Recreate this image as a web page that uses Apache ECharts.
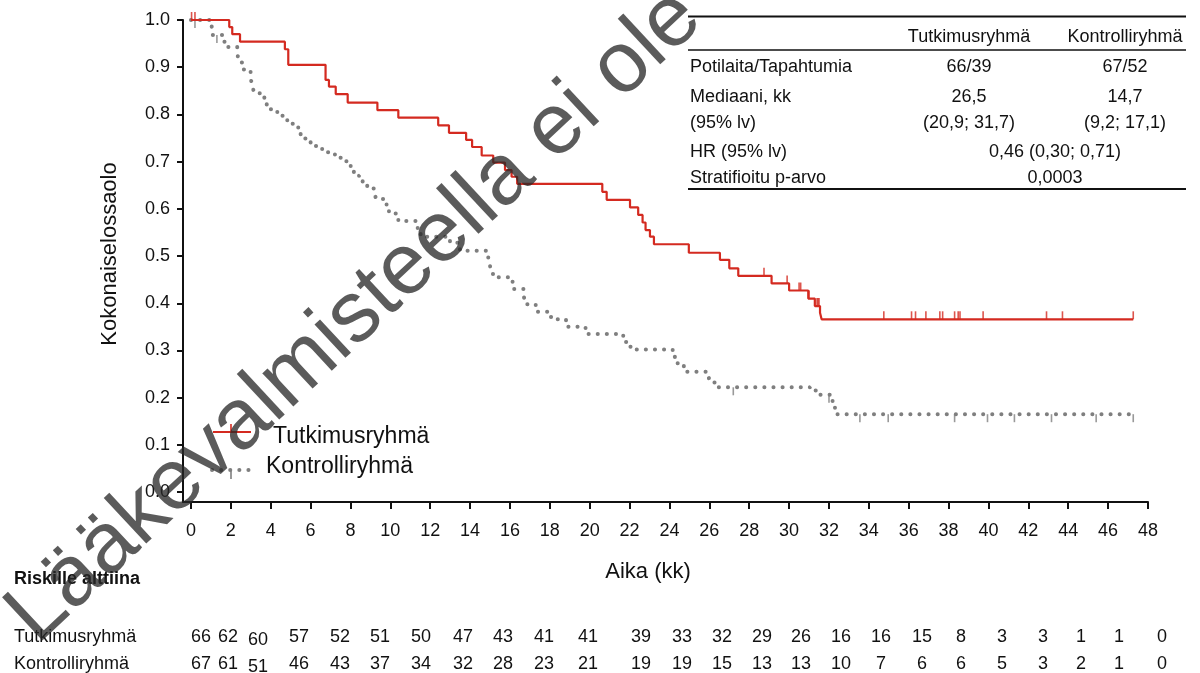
<!DOCTYPE html>
<html><head><meta charset="utf-8">
<script src="https://cdn.jsdelivr.net/npm/echarts@6/dist/echarts.min.js"></script>
<style>html,body{margin:0;padding:0;background:#fff}#c{width:1200px;height:673px}</style>
</head><body><div id="c"></div>
<script>
// ---- data ----
const xTicks = [0,2,4,6,8,10,12,14,16,18,20,22,24,26,28,30,32,34,36,38,40,42,44,46,48];
const yTicks = [0,0.1,0.2,0.3,0.4,0.5,0.6,0.7,0.8,0.9,1.0];
const redTime = [0,1.92,2.07,2.46,4.71,4.88,6.75,6.92,7.26,7.86,9.35,10.4,12.4,12.94,13.8,14.1,14.58,15.16,15.75,16.08,16.36,20.63,20.85,22.02,22.43,22.65,22.8,23.02,23.22,24.97,26.53,27.0,27.45,29.12,30.0,30.96,31.29,31.55,31.63,47.26];
const redSurv = [1.0,0.985,0.970,0.954,0.938,0.905,0.873,0.859,0.843,0.825,0.809,0.793,0.777,0.761,0.746,0.731,0.713,0.698,0.682,0.668,0.653,0.636,0.619,0.603,0.587,0.571,0.555,0.541,0.525,0.507,0.492,0.474,0.458,0.442,0.427,0.410,0.394,0.380,0.366,0.366];
const redCensor = [0.03,0.2,28.74,29.9,30.5,30.58,31.0,31.4,31.45,31.5,34.75,36.14,36.34,36.86,37.56,37.7,38.3,38.48,38.57,39.73,42.91,43.71,47.26];
const grayTime = [0,1.04,1.07,1.65,1.84,2.32,2.42,2.57,2.99,3.09,3.16,3.68,3.80,4.33,4.83,5.38,5.50,6.00,6.58,7.22,7.52,8.01,8.17,8.43,8.61,8.84,9.19,9.28,9.81,9.93,10.40,11.37,11.52,12.99,13.49,14.91,15.0,15.08,15.4,16.13,16.70,16.75,17.29,17.92,18.3,18.81,19.79,21.68,21.93,22.18,24.16,24.27,24.61,24.72,25.94,26.03,26.28,31.04,31.34,32.18,32.3,47.26];
const graySurv = [1.0,0.986,0.968,0.954,0.943,0.929,0.910,0.895,0.876,0.860,0.845,0.828,0.811,0.797,0.780,0.765,0.749,0.733,0.720,0.708,0.701,0.686,0.670,0.663,0.654,0.643,0.636,0.621,0.604,0.590,0.574,0.557,0.541,0.528,0.511,0.494,0.479,0.462,0.455,0.430,0.414,0.398,0.382,0.371,0.366,0.350,0.335,0.318,0.308,0.302,0.288,0.273,0.268,0.255,0.248,0.232,0.222,0.215,0.206,0.186,0.165,0.165];
const grayCensor = [0.2,1.3,27.2,32.0,33.55,34.97,38.3,39.95,41.3,43.16,45.4,47.26];
const groupNames = ['Tutkimusryhmä','Kontrolliryhmä'];
const riskTutkimus = [66,62,60,57,52,51,50,47,43,41,41,39,33,32,29,26,16,16,15,8,3,3,1,1,0];
const riskKontrolli = [67,61,51,46,43,37,34,32,28,23,21,19,19,15,13,13,10,7,6,6,5,3,2,1,0];
const tableHeader = ['', 'Tutkimusryhmä', 'Kontrolliryhmä'];
const tableRows = [
  ['Potilaita/Tapahtumia','66/39','67/52'],
  ['Mediaani, kk','26,5','14,7'],
  ['(95% lv)','(20,9; 31,7)','(9,2; 17,1)'],
  ['HR (95% lv)','0,46 (0,30; 0,71)'],
  ['Stratifioitu p-arvo','0,0003']
];
const watermarkText = 'Lääkevalmisteella ei ole enää myyntilupaa';

// ---- layout ----
const FONT = '"Liberation Sans", Arial, sans-serif';
const RED = '#d42a20', GRAY = '#7f7f7f', INK = '#111';
const riskColX = [201,228,258,299,340,380,421,463,503,544,588,641,682,722,762,801,841,881,922,961,1002,1043,1081,1119,1162];
const riskRowDy = [0,0,3,0,0,0,0,0,0,0,0,0,0,0,0,0,0,0,0,0,0,0,0,0,0];
const tableRowY = [67,97,123,152,178];

function stepAt(times, surv, t){ let v = surv[0]; for(let i=0;i<times.length;i++){ if(times[i]<=t) v=surv[i]; } return v; }
const zip = (a,b)=>a.map((v,i)=>[v,b[i]]);

function txt(x,y,s,size,align,weight,extra){
  return Object.assign({type:'text', x:x, y:y, z:10, silent:true,
    style:{text:s, fill:INK, font:(weight||'normal')+' '+size+'px '+FONT,
      align:align||'left', verticalAlign:'middle', textAlign:align||'left', textVerticalAlign:'middle'}}, extra||{});
}
function ln(x1,y1,x2,y2,style){ return {type:'line', z:10, silent:true, shape:{x1,y1,x2,y2}, style:Object.assign({stroke:INK, lineWidth:2}, style||{})}; }

const graphics = [];
// info table
graphics.push(ln(688,16.5,1186,16.5));
graphics.push(ln(688,50,1186,50,{lineWidth:1.5}));
graphics.push(ln(688,189,1186,189));
graphics.push(txt(969,37,tableHeader[1],18,'center'));
graphics.push(txt(1125,37,tableHeader[2],18,'center'));
tableRows.forEach((r,i)=>{
  graphics.push(txt(690,tableRowY[i],r[0],18,'left'));
  if(r.length===3){ graphics.push(txt(969,tableRowY[i],r[1],18,'center')); graphics.push(txt(1125,tableRowY[i],r[2],18,'center')); }
  else graphics.push(txt(1055,tableRowY[i],r[1],18,'center'));
});
// legend
graphics.push(ln(213,432,251,432,{stroke:RED,lineWidth:2}));
graphics.push(ln(231,424,231,432,{stroke:RED,lineWidth:1.6}));
graphics.push(txt(273,437,groupNames[0],23,'left'));
graphics.push(ln(212,470,250,470,{stroke:GRAY,lineWidth:4,lineDash:[0.1,9],lineCap:'round'}));
graphics.push(ln(231,470,231,479,{stroke:GRAY,lineWidth:1.6}));
graphics.push(txt(266,467,groupNames[1],23,'left'));
// axis titles
graphics.push(txt(648,572,'Aika (kk)',22,'center'));
graphics.push(txt(110,254,'Kokonaiselossaolo',22,'center',null,{rotation:Math.PI/2}));
// at-risk table
graphics.push(txt(14,579,'Riskille alttiina',18,'left','bold'));
graphics.push(txt(14,637,groupNames[0],18,'left'));
graphics.push(txt(14,664,groupNames[1],18,'left'));
riskTutkimus.forEach((v,i)=>graphics.push(txt(riskColX[i],637+riskRowDy[i],String(v),18,'center')));
riskKontrolli.forEach((v,i)=>graphics.push(txt(riskColX[i],664+riskRowDy[i],String(v),18,'center')));
// watermark
graphics.push({type:'text', x:21, y:628, rotation:43*Math.PI/180, z:100, silent:true,
  style:{text:watermarkText, fill:'rgba(40,40,40,0.76)', font:'86px '+FONT, align:'left', verticalAlign:'middle', textAlign:'left', textVerticalAlign:'middle'}});

const chart = echarts.init(document.getElementById('c'), null, {renderer:'canvas'});
chart.setOption({
  animation:false,
  backgroundColor:'#fff',
  grid:{left:183, right:52, top:20, bottom:171, containLabel:false},
  xAxis:{type:'value', min:-0.4, max:48,
    axisLine:{show:true, onZero:false, lineStyle:{color:INK, width:2}},
    axisTick:{show:true, length:7, lineStyle:{color:INK, width:2}, customValues:xTicks},
    axisLabel:{color:INK, fontSize:18, fontFamily:FONT, margin:20, customValues:xTicks, formatter:v=>String(Math.round(v))},
    splitLine:{show:false}},
  yAxis:{type:'value', min:-0.021, max:1.0,
    axisLine:{show:true, onZero:false, lineStyle:{color:INK, width:2}},
    axisTick:{show:true, length:6, lineStyle:{color:INK, width:2}, customValues:yTicks},
    axisLabel:{color:INK, fontSize:18, fontFamily:FONT, margin:13, customValues:yTicks, formatter:v=>v.toFixed(1)},
    splitLine:{show:false}},
  series:[
    {type:'line', name:groupNames[1], step:'end', showSymbol:false, clip:false, z:3,
      data:zip(grayTime,graySurv), lineStyle:{color:GRAY, width:4, type:[0.1,9], cap:'round'}},
    {type:'scatter', clip:false, z:3, symbol:'rect', symbolSize:[1.6,8], symbolOffset:[0,4],
      itemStyle:{color:GRAY}, data:grayCensor.map(t=>[t, stepAt(grayTime,graySurv,t)])},
    {type:'line', name:groupNames[0], step:'end', showSymbol:false, clip:false, z:4,
      data:zip(redTime,redSurv), lineStyle:{color:RED, width:2.2}},
    {type:'scatter', clip:false, z:4, symbol:'rect', symbolSize:[1.6,8], symbolOffset:[0,-4],
      itemStyle:{color:RED}, data:redCensor.map(t=>[t, stepAt(redTime,redSurv,t)])}
  ],
  graphic:{elements:graphics}
});
</script></body></html>
